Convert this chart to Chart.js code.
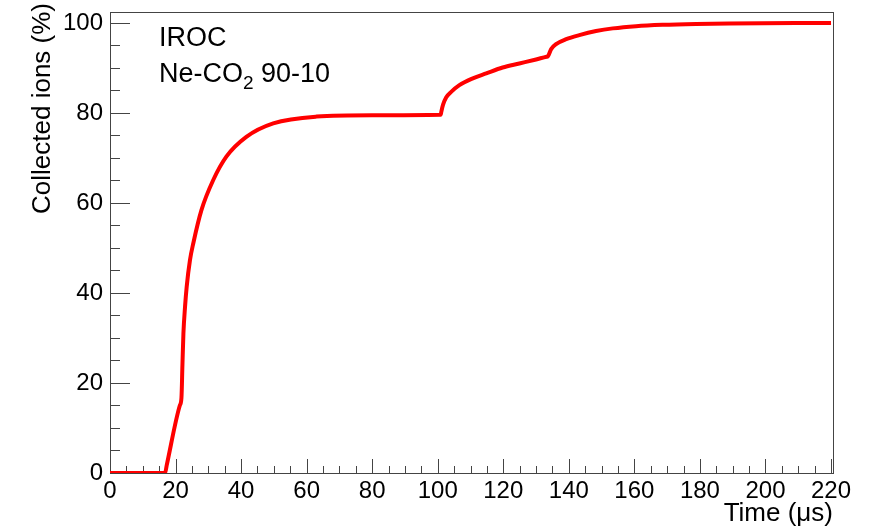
<!DOCTYPE html>
<html>
<head>
<meta charset="utf-8">
<script src="https://cdn.jsdelivr.net/npm/chart.js@4"></script>
<style>
  html, body { margin: 0; padding: 0; background: #fff; }
  #wrap { width: 879px; height: 529px; }
</style>
</head>
<body>
<div id="wrap"><canvas id="ionsChart" width="879" height="529"></canvas></div>
<script>
// values
const timeUs = [0, 16.8, 17.3, 21.3, 21.8, 22.1, 22.4, 22.9, 23.4, 24.4, 25.4, 27.9, 31.5, 35.5, 41.6, 49.8, 63.0, 80.0, 100.9,
  101.1, 101.6, 102.6, 104.1, 106.6, 110.7, 114.8, 119.8, 124.9, 130.0, 133.2, 133.6,
  134.6, 136.1, 139.2, 143.2, 148.3, 153.4, 160.5, 168.6, 178.8, 188.9, 220];
const collectedPct = [0, 0, 1.7, 15.0, 16.7, 24.0, 31.0, 37.0, 41.4, 47.3, 51.0, 58.4, 65.1, 70.3, 74.7, 77.7, 79.2, 79.5, 79.6,
  80.3, 81.8, 83.5, 84.7, 86.2, 87.7, 88.8, 90.1, 91.0, 91.9, 92.5, 92.6,
  94.2, 95.3, 96.4, 97.3, 98.2, 98.8, 99.3, 99.6, 99.8, 99.9, 100];

const xTickLabels = [0, 20, 40, 60, 80, 100, 120, 140, 160, 180, 200, 220];
const yTickLabels = [0, 20, 40, 60, 80, 100];
const annotationLines = ['IROC', 'Ne-CO', '2', ' 90-10'];

const FONT = '"Liberation Sans", Arial, sans-serif';

// ROOT style frame with inward ticks + the text box
const rootFrame = {
  id: 'rootFrame',
  beforeDatasetsDraw(chart) {
    const { ctx, chartArea: a, scales: { x, y } } = chart;
    ctx.save();
    ctx.strokeStyle = '#444';
    ctx.lineWidth = 1;
    ctx.strokeRect(Math.round(a.left) + 0.5, Math.round(a.top) + 0.5,
      Math.round(a.right - a.left), Math.round(a.bottom - a.top));
    ctx.beginPath();
    for (let v = 0; v <= 100; v += 5) {
      const py = Math.round(y.getPixelForValue(v)) + 0.5;
      const len = v % 20 === 0 ? 20 : 10;
      ctx.moveTo(a.left, py);
      ctx.lineTo(a.left + len, py);
    }
    for (let v = 0; v <= 220; v += 5) {
      const px = Math.round(x.getPixelForValue(v)) + 0.5;
      const len = v % 20 === 0 ? 14 : 7;
      ctx.moveTo(px, a.bottom);
      ctx.lineTo(px, a.bottom - len);
    }
    ctx.stroke();
    ctx.restore();
  },
  afterDraw(chart) {
    const { ctx } = chart;
    ctx.save();
    ctx.fillStyle = '#000';
    ctx.textBaseline = 'alphabetic';
    ctx.font = '27px ' + FONT;
    ctx.fillText(annotationLines[0], 159, 46);
    let px = 159;
    ctx.fillText(annotationLines[1], px, 82);
    px += ctx.measureText(annotationLines[1]).width;
    ctx.font = '19px ' + FONT;
    ctx.fillText(annotationLines[2], px, 89);
    px += ctx.measureText(annotationLines[2]).width;
    ctx.font = '27px ' + FONT;
    ctx.fillText(annotationLines[3], px, 82);

    // axis titles
    ctx.font = '26px ' + FONT;
    ctx.textAlign = 'right';
    ctx.fillText('Time (μs)', 833, 521);
    ctx.translate(50, 3);
    ctx.rotate(-Math.PI / 2);
    ctx.fillText('Collected ions (%)', 0, 0);
    ctx.restore();
  }
};

new Chart(document.getElementById('ionsChart'), {
  type: 'line',
  data: {
    datasets: [{
      data: timeUs.map((t, i) => ({ x: t, y: collectedPct[i] })),
      borderColor: '#ff0000',
      borderWidth: 4,
      pointRadius: 0,
      fill: false,
      cubicInterpolationMode: 'monotone'
    }]
  },
  options: {
    responsive: false,
    animation: false,
    layout: { padding: { top: 12, right: 46, left: 0, bottom: 0 } },
    plugins: { legend: { display: false }, tooltip: { enabled: false } },
    scales: {
      x: {
        type: 'linear',
        min: 0,
        max: 220.6,
        grid: { display: false, drawTicks: false },
        border: { display: false },
        afterBuildTicks: s => { s.ticks = xTickLabels.map(v => ({ value: v })); },
        afterFit: s => { s.height = 56; s.paddingLeft = 0; s.paddingRight = 0; },
        ticks: { color: '#000', font: { family: FONT, size: 24 }, padding: 4, maxRotation: 0, autoSkip: false }
      },
      y: {
        type: 'linear',
        min: 0,
        max: 102.44,
        grid: { display: false, drawTicks: false },
        border: { display: false },
        afterBuildTicks: s => { s.ticks = yTickLabels.map(v => ({ value: v })); },
        afterFit: s => { s.width = 110; s.paddingTop = 0; s.paddingBottom = 0; },
        ticks: { color: '#000', font: { family: FONT, size: 24 }, padding: 7 }
      }
    }
  },
  plugins: [rootFrame]
});
</script>
</body>
</html>
